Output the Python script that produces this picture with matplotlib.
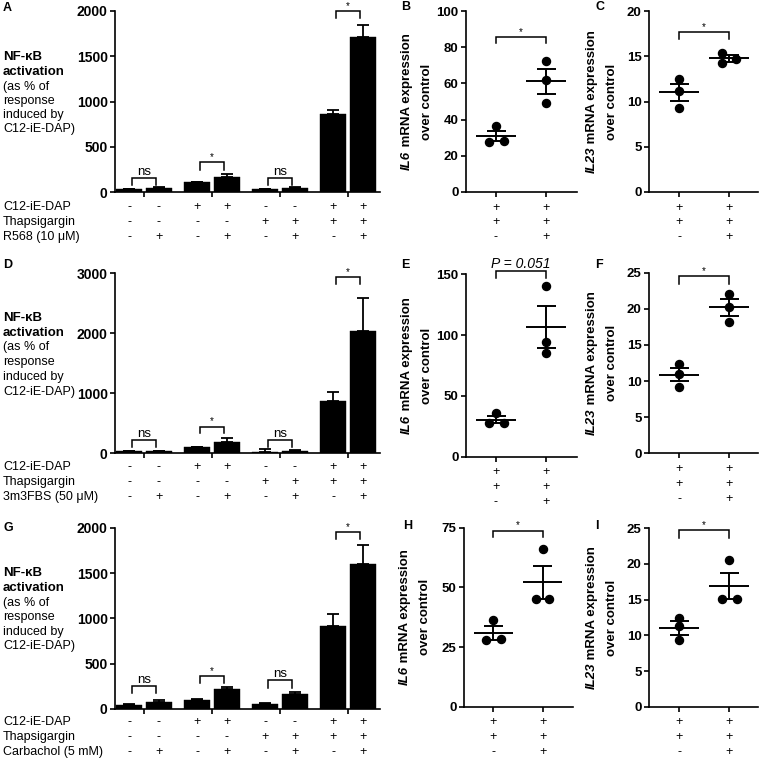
import matplotlib
matplotlib.use('Agg')
import matplotlib.pyplot as plt
import numpy as np

plt.rcParams['font.family'] = ['Liberation Sans', 'DejaVu Sans']
plt.rcParams['axes.linewidth'] = 1.2

# ---------------- data ----------------
row_a = ['C12-iE-DAP', 'Thapsigargin', 'R568 (10 μM)']
row_d = ['C12-iE-DAP', 'Thapsigargin', '3m3FBS (50 μM)']
row_g = ['C12-iE-DAP', 'Thapsigargin', 'Carbachol (5 mM)']
bar_signs = [['-', '-', '+', '+', '-', '-', '+', '+'],
             ['-', '-', '-', '-', '+', '+', '+', '+'],
             ['-', '+', '-', '+', '-', '+', '-', '+']]
scatter_signs = [['+', '+'], ['+', '+'], ['-', '+']]

A_means = [33, 48, 105, 165, 33, 48, 860, 1715]
A_err = [5, 8, 5, 30, 5, 8, 42, 130]
D_means = [38, 40, 100, 195, 25, 45, 865, 2040]
D_err = [8, 6, 5, 55, 40, 10, 155, 545]
G_means = [45, 75, 100, 225, 50, 160, 920, 1600]
G_err = [8, 25, 6, 22, 20, 30, 125, 210]

B_ctrl = [36.5, 27.8, 28.3]
B_trt = [72.5, 62.0, 49.0]
C_ctrl = [12.5, 11.2, 9.3]
C_trt = [15.4, 14.2, 14.7]
E_ctrl = [36.0, 27.5, 28.0]
E_trt = [140.0, 94.5, 85.5]
F_ctrl = [12.4, 11.0, 9.2]
F_trt = [22.1, 20.3, 18.2]
H_ctrl = [36.5, 27.8, 28.3]
H_trt = [66.0, 45.0, 45.3]
I_ctrl = [12.5, 11.3, 9.3]
I_trt = [20.5, 15.1, 15.1]

# ---------------- layout helpers ----------------
W, H = 760, 761
fig = plt.figure(figsize=(W / 100, H / 100), dpi=100)
FS = 9


def ax_px(l, t, r, b):
    return fig.add_axes([l / W, 1 - b / H, (r - l) / W, (b - t) / H])


def fx(x):
    return x / W


def fy(y):
    return 1 - y / H


def style_axis(ax, yticks, ylim, xlim, xticks, fs_tick):
    for s in ['top', 'right']:
        ax.spines[s].set_visible(False)
    ax.set_ylim(*ylim)
    ax.set_xlim(*xlim)
    ax.set_yticks(yticks)
    ax.set_yticklabels([str(v) for v in yticks], fontsize=fs_tick, fontweight='bold')
    ax.set_xticks(xticks)
    ax.set_xticklabels([])
    ax.tick_params(direction='out', length=3.8, width=1.2, pad=1.5)


def bracket(ax, x1, x2, ytop, yleg, text, italic=False, fs=None):
    ax.plot([x1, x1, x2, x2], [yleg, ytop, ytop, yleg], color='black', lw=1.1,
            clip_on=False, solid_joinstyle='miter')
    if text == '*':
        ax.annotate('*', xy=((x1 + x2) / 2, ytop), xytext=(0, 1.5), textcoords='offset points',
                    ha='center', va='baseline', fontsize=7, annotation_clip=False)
    else:
        ax.annotate(text, xy=((x1 + x2) / 2, ytop), xytext=(0, 2.2), textcoords='offset points',
                    ha='center', va='baseline', fontsize=fs or FS,
                    style='italic' if italic else 'normal', annotation_clip=False)


bar_x = []
for g in range(4):
    bar_x += [g - 0.22, g + 0.22]


def bar_panel(box, means, errs, ymax, yticks, brackets, rows_y, row_labels, lab_y, letter_xy, letter):
    ax = ax_px(*box)
    ax.bar(bar_x, means, width=0.38, color='black', edgecolor='black', lw=0.3)
    ax.errorbar(bar_x, means, yerr=[np.zeros(len(errs)), errs], fmt='none', ecolor='black',
                elinewidth=1.3, capsize=4.2, capthick=1.3)
    style_axis(ax, yticks, (0, ymax), (-0.426, 3.47), [0, 1, 2, 3], 10)
    for (i, j, yt, yl, txt) in brackets:
        bracket(ax, bar_x[i] + 0.04, bar_x[j] - 0.04, yt, yl, txt, fs=9.5)
    # rows of signs
    for r in range(3):
        fig.text(fx(3), fy(rows_y[r]), row_labels[r], ha='left', va='center', fontsize=FS)
        for k, xv in enumerate(bar_x):
            disp = ax.transData.transform((xv, 0))
            fig.text(disp[0] / W, fy(rows_y[r]), bar_signs[r][k], ha='center', va='center', fontsize=FS)
    # y label block
    lines = ['NF-κB', 'activation', '(as % of', 'response', 'induced by', 'C12-iE-DAP)']
    for k, ln in enumerate(lines):
        fig.text(fx(3), fy(lab_y[k]), ln, ha='left', va='center', fontsize=FS + 0.5 if k < 2 else FS,
                 fontweight='bold' if k < 2 else 'normal')
    fig.text(fx(letter_xy[0]), fy(letter_xy[1]), letter, ha='left', va='center', fontsize=FS,
             fontweight='bold')
    return ax


renderer = fig.canvas.get_renderer()


def rot_ylabel(xc1, xc2, yc, gene):
    t1 = fig.text(0, 0, gene, fontsize=FS + 0.5, fontweight='bold', style='italic', rotation=90,
                  ha='center', va='bottom')
    t2 = fig.text(0, 0, ' mRNA expression', fontsize=FS + 0.5, fontweight='bold', rotation=90,
                  ha='center', va='bottom')
    h1 = t1.get_window_extent(renderer).height
    h2 = t2.get_window_extent(renderer).height
    ybot = (H - yc) - (h1 + h2) / 2
    t1.set_position((xc1 / W, ybot / H))
    t2.set_position((xc1 / W, (ybot + h1) / H))
    fig.text(xc2 / W, fy(yc), 'over control', fontsize=FS + 0.5, fontweight='bold', rotation=90,
             ha='center', va='center')


def scatter_panel(box, ctrl, trt, offs_c, offs_t, ymax, yticks, br, rows_y, gene, lab_x, letter_xy,
                  letter, br_text='*', italic=False, xlim=(-0.6, 1.62)):
    ax = ax_px(*box)
    style_axis(ax, yticks, (0, ymax), xlim, [0, 1], 9.5)
    for xg, vals, offs in [(0, ctrl, offs_c), (1, trt, offs_t)]:
        vals = np.asarray(vals, float)
        m = vals.mean()
        sem = vals.std(ddof=1) / np.sqrt(len(vals))
        ax.plot(xg + np.asarray(offs), vals, 'o', color='black', ms=5.8, clip_on=False, zorder=3)
        ax.hlines(m, xg - 0.4, xg + 0.4, color='black', lw=1.4)
        ax.vlines(xg, m - sem, m + sem, color='black', lw=1.4)
        ax.hlines([m - sem, m + sem], xg - 0.19, xg + 0.19, color='black', lw=1.4)
    bracket(ax, 0, 1, br[0], br[1], br_text, italic=italic, fs=FS + 1)
    for r in range(3):
        for k in range(2):
            disp = ax.transData.transform((k, 0))
            fig.text(disp[0] / W, fy(rows_y[r]), scatter_signs[r][k], ha='center', va='center',
                     fontsize=FS)
    yc = (box[1] + box[3]) / 2
    rot_ylabel(lab_x[0], lab_x[1], yc, gene)
    fig.text(fx(letter_xy[0]), fy(letter_xy[1]), letter, ha='left', va='center', fontsize=FS,
             fontweight='bold')
    return ax


# ---------------- bar panels ----------------
bar_panel((115, 11, 380, 192), A_means, A_err, 2000, [0, 500, 1000, 1500, 2000],
          [(0, 1, 155, 81, 'ns'), (2, 3, 327, 240, '*'), (4, 5, 155, 81, 'ns'), (6, 7, 2002, 1921, '*')],
          [207, 222, 237], row_a, [57, 72, 87, 101, 115, 129], (3, 8), 'A')
bar_panel((115, 273.3, 380, 453.3), D_means, D_err, 3000, [0, 1000, 2000, 3000],
          [(0, 1, 222, 100, 'ns'), (2, 3, 445, 334, '*'), (4, 5, 222, 100, 'ns'), (6, 7, 2936, 2824, '*')],
          [467, 482, 497], row_d, [318, 333, 347, 362, 377, 392], (3, 265), 'D')
bar_panel((115, 527.7, 380, 709), G_means, G_err, 2000, [0, 500, 1000, 1500, 2000],
          [(0, 1, 257, 180, 'ns'), (2, 3, 364, 283, '*'), (4, 5, 320, 228, 'ns'), (6, 7, 1948, 1871, '*')],
          [722, 737, 752], row_g, [573, 588, 603, 617, 632, 646], (3, 528), 'G')

# ---------------- scatter panels ----------------
scatter_panel((466, 11, 577, 192), B_ctrl, B_trt, [0, -0.15, 0.15], [0, 0, 0], 100, [0, 20, 40, 60, 80, 100],
              (85.5, 82.2), [208, 222, 237], 'IL6', (407, 427), (401, 7), 'B')
scatter_panel((649, 11, 758, 192), C_ctrl, C_trt, [0, 0, 0], [-0.15, -0.15, 0.14], 20, [0, 5, 10, 15, 20],
              (17.66, 16.9), [208, 222, 237], 'IL23', (592, 612), (595, 7), 'C', xlim=(-0.6, 1.58))
scatter_panel((466, 274.3, 577, 456.7), E_ctrl, E_trt, [0, -0.15, 0.15], [0, 0, 0], 150, [0, 50, 100, 150],
              (152.9, 146.6), [472, 487, 502], 'IL6', (407, 427), (401, 265), 'E',
              br_text='P = 0.051', italic=True)
scatter_panel((649, 272.7, 758, 453.3), F_ctrl, F_trt, [0, 0, 0], [0, 0, 0], 25, [0, 5, 10, 15, 20, 25],
              (24.5, 23.5), [469, 484, 499], 'IL23', (592, 612), (595, 265), 'F', xlim=(-0.6, 1.58))
scatter_panel((464, 527.7, 573, 706.7), H_ctrl, H_trt, [0, -0.15, 0.15], [0, -0.14, 0.14], 75, [0, 25, 50, 75],
              (73.8, 71.0), [722, 737, 752], 'IL6', (405, 425), (403, 526), 'H')
scatter_panel((649, 528.3, 758, 706.7), I_ctrl, I_trt, [0, 0, 0], [0, -0.15, 0.15], 25, [0, 5, 10, 15, 20, 25],
              (24.7, 23.7), [722, 737, 752], 'IL23', (592, 612), (595, 526), 'I', xlim=(-0.6, 1.58))

fig.savefig('out.png', dpi=100)
